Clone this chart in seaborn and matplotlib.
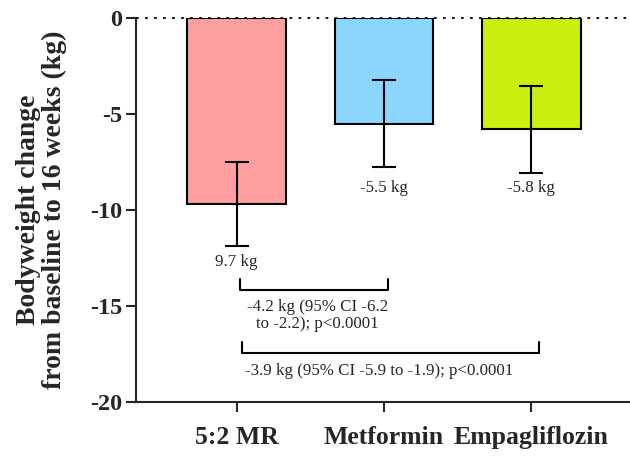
import numpy as np
import pandas as pd
import matplotlib
matplotlib.use("Agg")
import matplotlib.pyplot as plt
import seaborn as sns

# data
groups = ["5:2 MR", "Metformin", "Empagliflozin"]
mean_change = [-9.7, -5.5, -5.8]
sd_change = [2.2, 2.25, 2.25]
bar_colors = ["#FF9E9E", "#8AD6FC", "#CCEE11"]
bar_labels = ["9.7 kg", "-5.5 kg", "-5.8 kg"]
comp_text = ["-4.2 kg (95% CI -6.2\nto -2.2); p<0.0001",
             "-3.9 kg (95% CI -5.9 to -1.9); p<0.0001"]

sns.set_style("ticks")
plt.rcParams['font.family'] = ['Liberation Serif', 'DejaVu Serif']

df = pd.DataFrame({"group": groups, "change": mean_change})

fig = plt.figure(figsize=(6.3, 4.58), dpi=100)
ax = fig.add_axes([0.2165, 0.1223, 0.7835, 0.8384])

sns.barplot(data=df, x="group", y="change", hue="group", palette=bar_colors,
            saturation=1, errorbar=None, width=0.67, edgecolor="black",
            linewidth=1.5, legend=False, ax=ax, zorder=2)
ax.errorbar(range(len(groups)), mean_change, yerr=sd_change, fmt="none",
            ecolor="black", elinewidth=1.5, capsize=8.5, capthick=1.5, zorder=3)

# dotted zero line
ax.axhline(0, color="black", linestyle=(0, (1.5, 3.5)), linewidth=1.3,
           clip_on=False, zorder=4)

# value labels under bars
label_y = [-12.7, -8.85, -8.85]
for i, (lab, ly) in enumerate(zip(bar_labels, label_y)):
    ax.text(i, ly, lab, ha="center", va="center", fontsize=12.2)

# comparison brackets
def bracket(x0, x1, y, h):
    ax.plot([x0, x0, x1, x1], [y + h, y, y, y + h], color="black", lw=1.5,
            clip_on=False)

bracket(0.02, 1.03, -14.17, 0.55)
ax.text(0.55, -15.5, comp_text[0], ha="center", va="center", fontsize=12.2,
        linespacing=1.05)
bracket(0.04, 2.05, -17.45, 0.55)
ax.text(0.97, -18.4, comp_text[1], ha="center", va="center", fontsize=12.2)

ax.set_ylim(-20, 0)
ax.set_xlim(-0.68, 2.67)
ax.set_yticks([0, -5, -10, -15, -20])
ax.set_yticklabels(["0", "-5", "-10", "-15", "-20"])
ax.set_xlabel("")
ax.set_ylabel("Bodyweight change\nfrom baseline to 16 weeks (kg)",
              fontsize=20, fontweight="bold", labelpad=17, linespacing=1.0)
ax.tick_params(axis="both", width=1.5, length=7)
ax.tick_params(axis="y", labelsize=17.5, pad=3)
ax.tick_params(axis="x", labelsize=18.5, pad=10)
for t in ax.get_xticklabels() + ax.get_yticklabels():
    t.set_fontweight("bold")

sns.despine(ax=ax, top=True, right=True)
ax.spines["left"].set_linewidth(1.5)
ax.spines["bottom"].set_linewidth(1.5)

fig.savefig("out.png", dpi=100)
